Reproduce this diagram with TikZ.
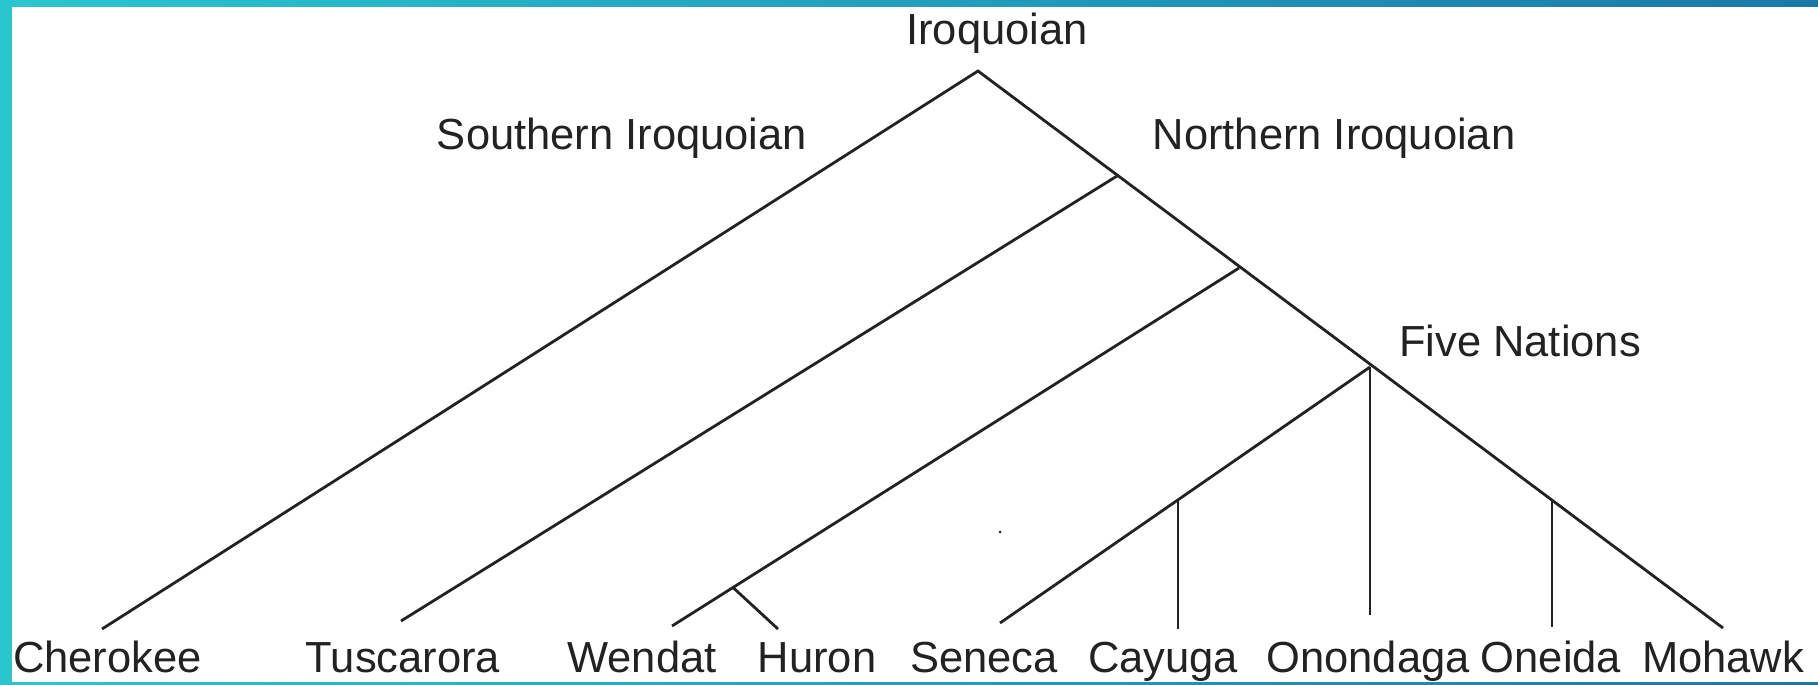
\documentclass[tikz,border=0pt]{standalone}
\usepackage{fontspec}
\setmainfont{Liberation Sans}
\definecolor{ink}{HTML}{222222}
\definecolor{tealA}{HTML}{2AC6D0}
\definecolor{tealB}{HTML}{1B78A6}
\begin{document}
\begin{tikzpicture}[x=1pt,y=-1pt,
  lbl/.style={anchor=base, inner sep=0pt, text=ink, font=\fontsize{43.5}{52}\selectfont},
  edge/.style={draw=ink, line width=2.8pt, line join=miter},
  band/.style={left color=tealA, right color=tealB}]
\useasboundingbox (0,0) rectangle (1818,685);
\fill[white] (0,0) rectangle (1818,685);
\shade[band] (0,0) rectangle (1818,7);
\fill[tealA] (0,0) rectangle (12,685);
\shade[band] (0,682.5) rectangle (1818,685);

% junctions
\coordinate (root) at (978,71);
\coordinate (nI) at (1117,176);
\coordinate (n2) at (1239,268);
\coordinate (five) at (1370,367);
\coordinate (wh) at (733,587.5);
\coordinate (cay) at (1178,500);
\coordinate (one) at (1552,501);
% leaf ends
\coordinate (eCh) at (102,629);
\coordinate (eTu) at (401,621);
\coordinate (eWe) at (672,626);
\coordinate (eHu) at (778,629);
\coordinate (eSe) at (1000,623);
\coordinate (eCa) at (1178,629);
\coordinate (eOn) at (1370,615);
\coordinate (eOe) at (1552,627);
\coordinate (eMo) at (1723,628);

% labels
\node[lbl] (Iroquoian) at (997,45) {Iroquoian};
\node[lbl] (Southern) at (622,149) {Southern Iroquoian};
\node[lbl] (Northern) at (1334,149) {Northern Iroquoian};
\node[lbl] (Five) at (1520,356) {Five Nations};
\node[lbl] (Cherokee) at (107.5,672) {Cherokee};
\node[lbl] (Tuscarora) at (403,672) {Tuscarora};
\node[lbl] (Wendat) at (642,672) {Wendat};
\node[lbl] (Huron) at (817,672) {Huron};
\node[lbl] (Seneca) at (984,672) {Seneca};
\node[lbl] (Cayuga) at (1163,672) {Cayuga};
\node[lbl] (Onondaga) at (1368,672) {Onondaga};
\node[lbl] (Oneida) at (1551,672) {Oneida};
\node[lbl] (Mohawk) at (1723,672) {Mohawk};

% edges
\draw[edge] (eCh) -- (root) -- (eMo);
\draw[edge] (nI) -- (eTu);
\draw[edge] (n2) -- (eWe);
\draw[edge] (wh) -- (eHu);
\draw[edge] (five) -- (eSe);
\draw[edge] (five) -- (eOn);
\draw[edge] (cay) -- (eCa);
\draw[edge] (one) -- (eOe);

\fill[ink] (1000,532) circle (1.5);
\end{tikzpicture}
\end{document}
